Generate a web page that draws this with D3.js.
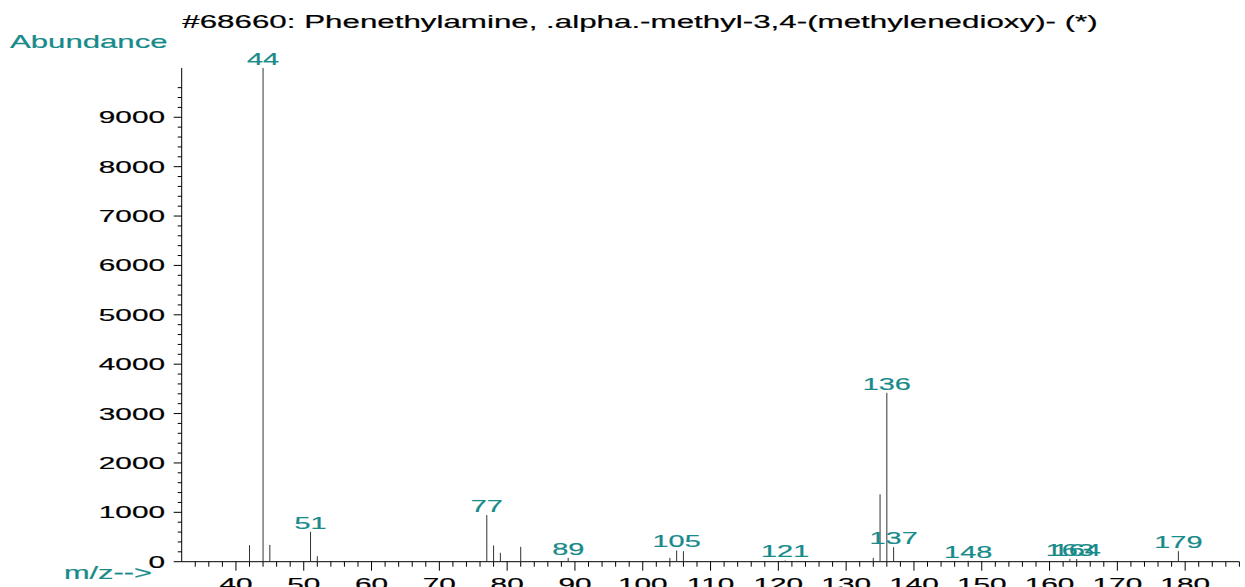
<!DOCTYPE html>
<html>
<head>
<meta charset="utf-8">
<script src="https://cdn.jsdelivr.net/npm/d3@7"></script>
<style>
  body { margin: 0; background: #fff; }
  svg { display: block; }
  text { font-family: "Liberation Sans", Arial, sans-serif; }
</style>
</head>
<body>
<svg id="chart" width="1245" height="587"></svg>
<script>
// spectrum data
const title = "#68660: Phenethylamine, .alpha.-methyl-3,4-(methylenedioxy)- (*)";
const mz = [42, 44, 45, 51, 52, 77, 78, 79, 82, 89, 104, 105, 106, 121, 134, 135, 136, 137, 148, 163, 164, 179];
const abundance = [335, 9999, 340, 605, 112, 944, 329, 180, 301, 78, 78, 227, 213, 25, 78, 1364, 3420, 294, 18, 57, 55, 213];
const labelled = [44, 51, 77, 89, 105, 121, 136, 137, 148, 163, 164, 179];
const yTickLabels = [0, 1000, 2000, 3000, 4000, 5000, 6000, 7000, 8000, 9000];
const xTickLabels = [40, 50, 60, 70, 80, 90, 100, 110, 120, 130, 140, 150, 160, 170, 180];

const teal = "#178a8a";
const SX = 1.75; // the original picture is stretched sideways

const svg = d3.select("#chart");

const x = d3.scaleLinear().domain([32, 188]).range([181.7, 1239.4]);
const y = d3.scaleLinear().domain([0, 10000]).range([561.7, 67.9]);

// stretched text helper (thin stroke to thicken the glyphs a bit)
function label(g, tx, ty, str, size, anchor, color) {
  return g.append("text")
    .attr("transform", "translate(" + tx + "," + ty + ") scale(" + SX + ",1)")
    .attr("text-anchor", anchor)
    .attr("font-size", size)
    .attr("fill", color)
    .attr("stroke", color)
    .attr("stroke-width", 0.2)
    .text(str);
}

// title + axis names
label(svg, 640, 28, title, 17.9, "middle", "#000");
label(svg, 10, 48, "Abundance", 17.8, "start", teal);
label(svg, 152, 578.5, "m/z-->", 17.6, "end", teal);

// y axis
const yAxis = svg.append("g");
yAxis.append("line")
  .attr("x1", x(32)).attr("x2", x(32))
  .attr("y1", y(10000)).attr("y2", y(0))
  .attr("stroke", "#000");
yAxis.selectAll(".ymin")
  .data(d3.range(0, 9700, 200))
  .enter().append("line")
  .attr("x1", d => x(32) - (d % 1000 === 0 ? 8 : 4))
  .attr("x2", x(32))
  .attr("y1", d => y(d)).attr("y2", d => y(d))
  .attr("stroke", "#000");
yTickLabels.forEach(v => label(yAxis, 165, y(v) + 6, String(v), 17, "end", "#000"));

// x axis
const xAxis = svg.append("g");
xAxis.append("line")
  .attr("x1", x(32)).attr("x2", x(188))
  .attr("y1", y(0)).attr("y2", y(0))
  .attr("stroke", "#000");
xAxis.selectAll(".xmin")
  .data(d3.range(34, 189, 2))
  .enter().append("line")
  .attr("x1", d => x(d)).attr("x2", d => x(d))
  .attr("y1", y(0))
  .attr("y2", d => y(0) + (d % 10 === 0 ? 9 : 5))
  .attr("stroke", "#000");
xTickLabels.forEach(v => label(xAxis, x(v), 589.5, String(v), 17, "middle", "#000"));

// peaks
svg.append("g").selectAll("line")
  .data(mz)
  .enter().append("line")
  .attr("x1", d => x(d)).attr("x2", d => x(d))
  .attr("y1", y(0))
  .attr("y2", (d, i) => y(abundance[i]))
  .attr("stroke", "#333")
  .attr("stroke-width", 1);

// peak labels
const peakLabels = svg.append("g");
labelled.forEach(m => {
  const a = abundance[mz.indexOf(m)];
  label(peakLabels, x(m), y(a) - 3, String(m), 16.5, "middle", teal);
});
</script>
</body>
</html>
